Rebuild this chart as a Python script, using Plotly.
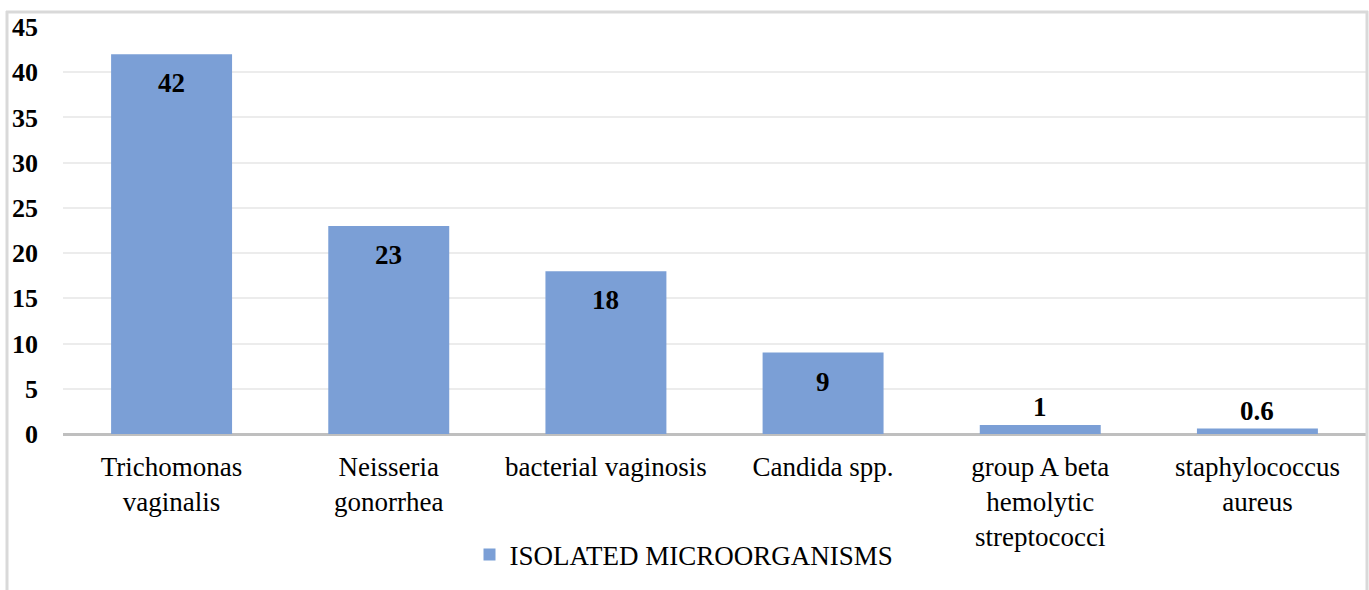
import plotly.graph_objects as go

categories = ["Trichomonas vaginalis", "Neisseria gonorrhea", "bacterial vaginosis",
              "Candida spp.", "group A beta hemolytic streptococci", "staphylococcus aureus"]
tick_labels = ["Trichomonas<br>vaginalis", "Neisseria<br>gonorrhea", "bacterial vaginosis",
               "Candida spp.", "group A beta<br>hemolytic<br>streptococci", "staphylococcus<br>aureus"]
values = [42, 23, 18, 9, 1, 0.6]
label_texts = ["42", "23", "18", "9", "1", "0.6"]
series_name = "ISOLATED MICROORGANISMS"
y_ticks = [0, 5, 10, 15, 20, 25, 30, 35, 40, 45]

W, H = 1369, 590
L, R, T, B = 63, 3, 27, 156
pw, ph = W - L - R, H - T - B

def px_x(x):
    return (x - L) / pw

def px_y(y):
    return (H - B - y) / ph

BAR = "#7b9fd6"
FONT = "Liberation Serif"

fig = go.Figure()
fig.add_trace(go.Bar(
    x=categories, y=values, name=series_name,
    marker=dict(color=BAR, line=dict(width=0)),
    showlegend=True,
))

annotations = []
for c, v, t in zip(categories, values, label_texts):
    inside = v > 5
    annotations.append(dict(
        x=c, y=v, xref="x", yref="y", text=f"<b>{t}</b>", showarrow=False,
        yanchor="middle", yshift=-29 if inside else 18,
        font=dict(family=FONT, size=27, color="black"),
    ))

shapes = [
    dict(type="line", xref="paper", yref="paper", x0=px_x(7), x1=px_x(7), y0=px_y(11), y1=px_y(600),
         line=dict(color="#d9d9d9", width=3)),
    dict(type="line", xref="paper", yref="paper", x0=px_x(6), x1=px_x(1368), y0=px_y(12), y1=px_y(12),
         line=dict(color="#d9d9d9", width=3)),
    dict(type="line", xref="paper", yref="paper", x0=px_x(1367), x1=px_x(1367), y0=px_y(11), y1=px_y(600),
         line=dict(color="#d9d9d9", width=3)),
]

fig.update_layout(
    width=W, height=H,
    margin=dict(l=L, r=R, t=T, b=B),
    paper_bgcolor="white", plot_bgcolor="white",
    bargap=0.443,
    font=dict(family=FONT, color="black"),
    xaxis=dict(
        tickmode="array", tickvals=categories, ticktext=tick_labels,
        tickfont=dict(family=FONT, size=27, color="black"),
        showgrid=False, showline=False, zeroline=False, ticks="",
        ticklabelstandoff=14,
        fixedrange=True,
    ),
    yaxis=dict(
        range=[0, 45], tickvals=y_ticks,
        ticktext=[f"<b>{v}</b>" for v in y_ticks],
        tickfont=dict(family=FONT, size=26, color="black"),
        showgrid=True, gridcolor="#ececec", gridwidth=2,
        zeroline=True, zerolinecolor="#bfbfbf", zerolinewidth=3,
        showline=False, ticks="", ticklabelstandoff=24,
    ),
    legend=dict(
        orientation="h", x=px_x(684), xanchor="center", y=px_y(555), yanchor="middle",
        font=dict(family=FONT, size=27, color="black"),
        itemsizing="constant",
    ),
    annotations=annotations,
    shapes=shapes,
)

fig.write_html("out.html", config={"displayModeBar": False},
               post_script="document.body.style.margin='0';document.body.style.overflow='hidden';")
